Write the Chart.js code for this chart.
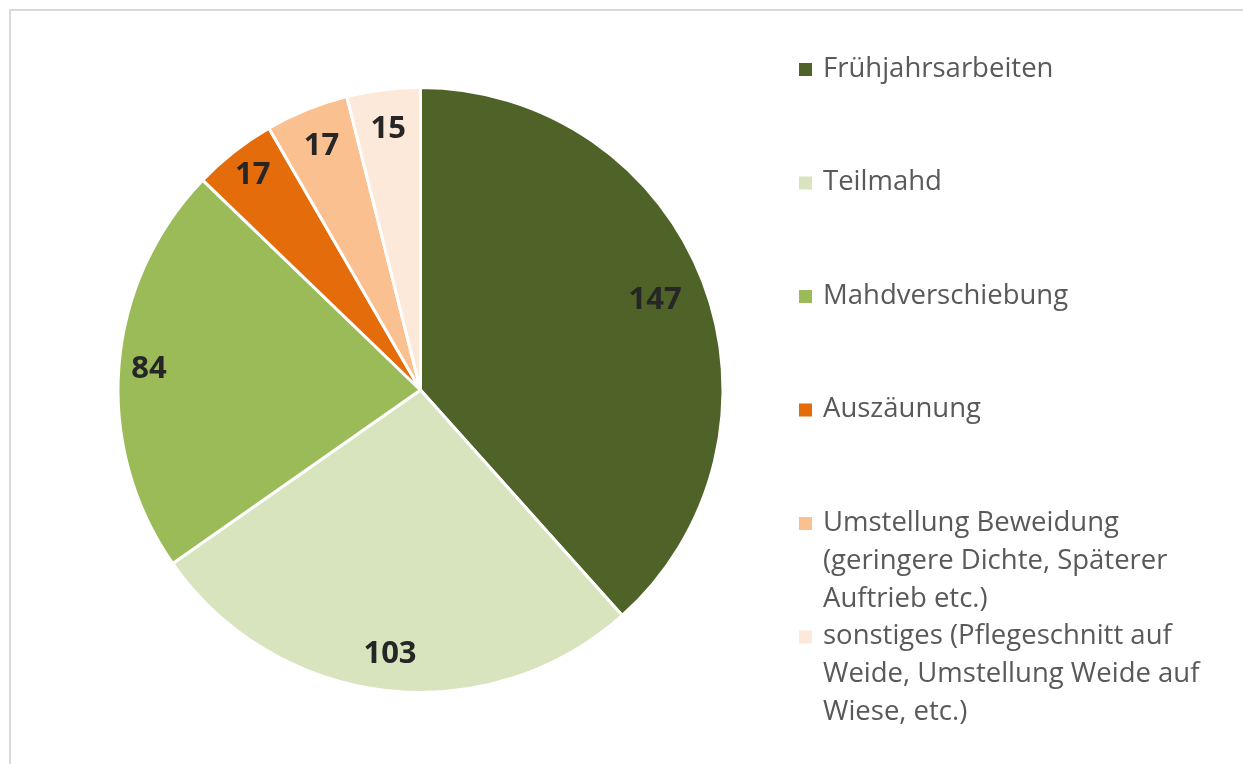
<!DOCTYPE html>
<html>
<head>
<meta charset="utf-8">
<script src="https://cdn.jsdelivr.net/npm/chart.js@4/dist/chart.umd.min.js"></script>
<style>
html,body{margin:0;padding:0;background:#fff;overflow:hidden;}
#c{display:block;}
</style>
</head>
<body>
<canvas id="c" width="1243" height="764"></canvas>
<script>
const categories = [
  "Frühjahrsarbeiten",
  "Teilmahd",
  "Mahdverschiebung",
  "Auszäunung",
  "Umstellung Beweidung (geringere Dichte, Späterer Auftrieb etc.)",
  "sonstiges (Pflegeschnitt auf Weide, Umstellung Weide auf Wiese, etc.)"
];
const legendLines = [
  ["Frühjahrsarbeiten"],
  ["Teilmahd"],
  ["Mahdverschiebung"],
  ["Auszäunung"],
  ["Umstellung Beweidung", "(geringere Dichte, Späterer", "Auftrieb etc.)"],
  ["sonstiges (Pflegeschnitt auf", "Weide, Umstellung Weide auf", "Wiese, etc.)"]
];
const values = [147, 103, 84, 17, 17, 15];
const colors = ["#4F6228", "#D7E4BD", "#9BBB59", "#E46C0A", "#FAC090", "#FDE9D9"];

const FONT = "'Open Sans', 'Liberation Sans', sans-serif";

const framePlugin = {
  id: 'frame',
  beforeDraw(chart) {
    const ctx = chart.ctx;
    ctx.save();
    ctx.fillStyle = '#ffffff';
    ctx.fillRect(0, 0, chart.width, chart.height);
    ctx.strokeStyle = '#D9D9D9';
    ctx.lineWidth = 2;
    ctx.beginPath();
    ctx.moveTo(10, chart.height);
    ctx.lineTo(10, 10);
    ctx.lineTo(chart.width, 10);
    ctx.stroke();
    ctx.restore();
  }
};

const labelPlugin = {
  id: 'sliceLabels',
  afterDatasetsDraw(chart, args, opts) {
    const ctx = chart.ctx;
    const meta = chart.getDatasetMeta(0);
    const fr = opts.radial || [];
    ctx.save();
    ctx.font = "bold 31px " + FONT;
    ctx.fillStyle = '#262626';
    ctx.textAlign = 'center';
    ctx.textBaseline = 'middle';
    meta.data.forEach((arc, i) => {
      const p = arc.getProps(['x', 'y', 'startAngle', 'endAngle', 'outerRadius'], true);
      const mid = (p.startAngle + p.endAngle) / 2;
      const r = p.outerRadius * (fr[i] || 0.87);
      ctx.fillText(String(values[i]), p.x + Math.cos(mid) * r, p.y + Math.sin(mid) * r);
    });
    ctx.restore();
  }
};

const legendPlugin = {
  id: 'sideLegend',
  afterDraw(chart) {
    const ctx = chart.ctx;
    ctx.save();
    ctx.font = "27.5px " + FONT;
    ctx.textBaseline = 'middle';
    ctx.textAlign = 'left';
    const x0 = 799, tx = 823, y0 = 69, step = 113.5, lh = 38;
    legendLines.forEach((lines, i) => {
      const y = y0 + i * step;
      ctx.fillStyle = colors[i];
      ctx.fillRect(x0, y - 6, 13, 13);
      ctx.fillStyle = '#595959';
      lines.forEach((ln, j) => ctx.fillText(ln, tx, y + j * lh));
    });
    ctx.restore();
  }
};

new Chart(document.getElementById('c'), {
  type: 'pie',
  data: {
    labels: categories,
    datasets: [{
      data: values,
      backgroundColor: colors,
      borderColor: '#ffffff',
      borderWidth: 3
    }]
  },
  options: {
    responsive: false,
    animation: false,
    layout: { padding: { left: 116, right: 518, top: 86, bottom: 70 } },
    plugins: {
      legend: { display: false },
      tooltip: { enabled: false },
      sliceLabels: { radial: [0.83, 0.88, 0.90, 0.90, 0.87, 0.87] }
    }
  },
  plugins: [framePlugin, labelPlugin, legendPlugin]
});
</script>
</body>
</html>
